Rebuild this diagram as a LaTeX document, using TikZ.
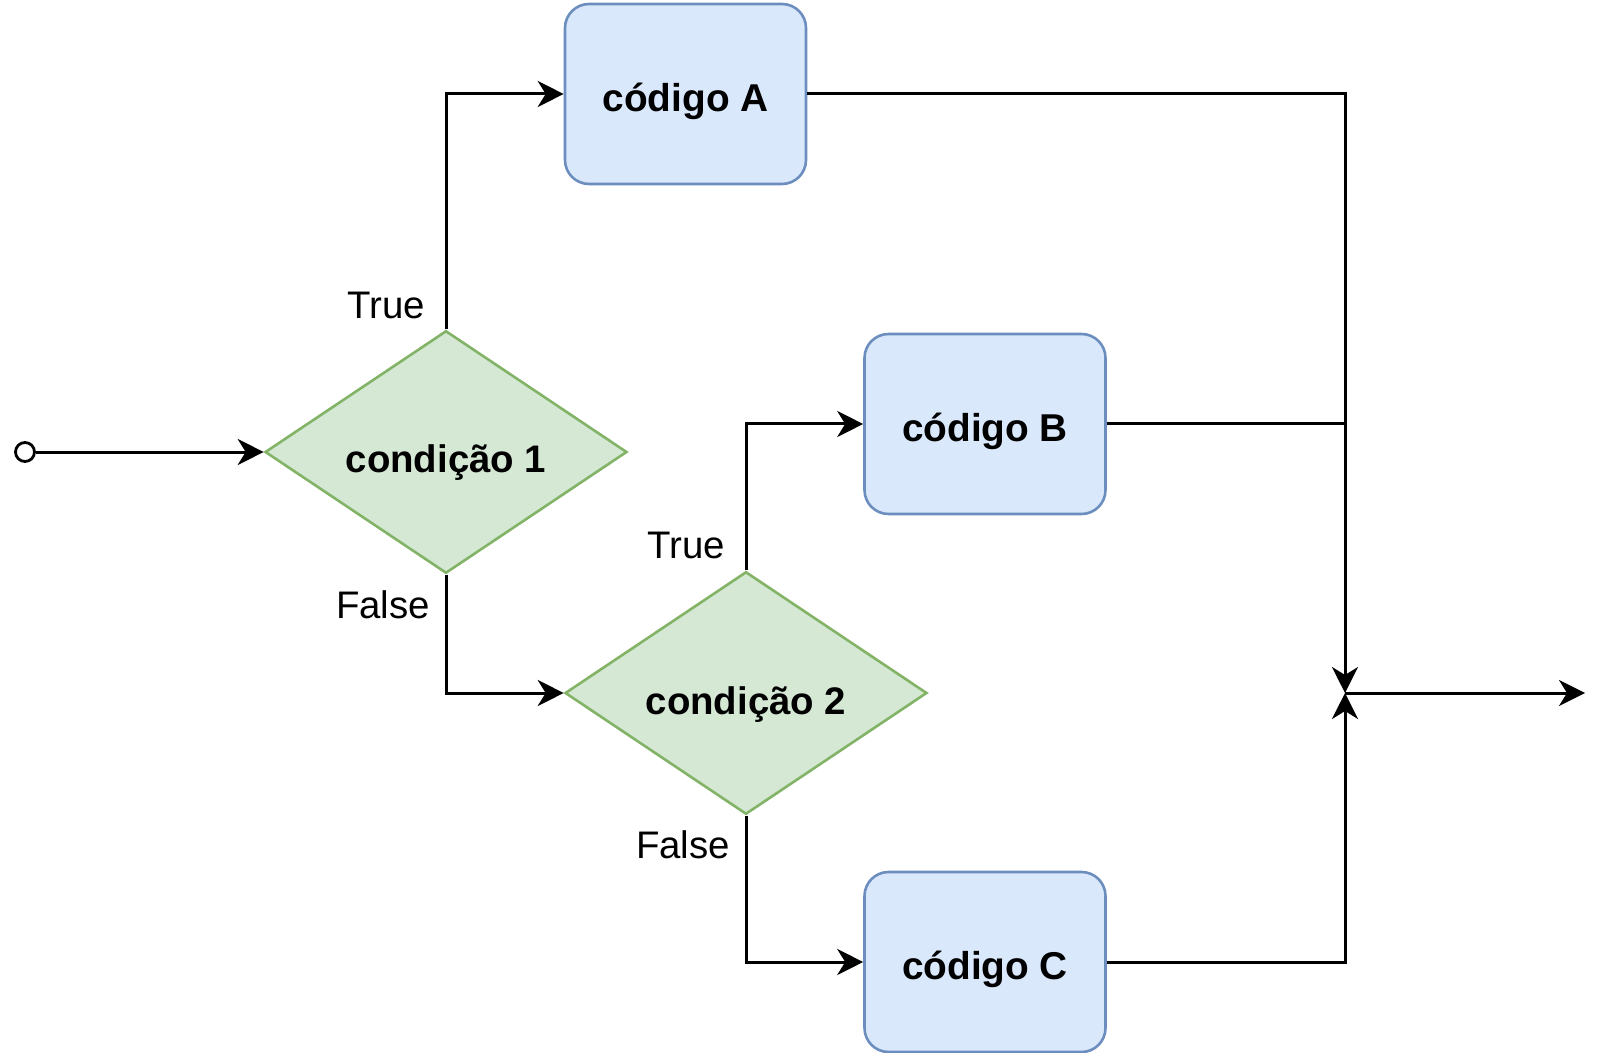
\documentclass[tikz,border=0pt]{standalone}
\usepackage{fontspec}
\setmainfont{Liberation Sans}
\usetikzlibrary{shapes.geometric,arrows.meta}
\definecolor{boxfill}{HTML}{DAE8FC}
\definecolor{boxline}{HTML}{6C8EBF}
\definecolor{decfill}{HTML}{D5E8D4}
\definecolor{decline}{HTML}{82B366}
\begin{document}
\begin{tikzpicture}[x=0.5pt,y=-0.5pt,
  codebox/.style={draw=boxline,fill=boxfill,line width=1.3pt,rounded corners=12pt,
    minimum width=120.5pt,minimum height=90pt,inner sep=0pt,
    text height=17.7pt,text depth=0pt,
    font=\fontsize{19.4}{22}\selectfont\bfseries},
  decision/.style={diamond,draw=decline,fill=decfill,line width=1.3pt,
    minimum width=181pt,minimum height=119pt,inner sep=0pt,
    text height=21pt,text depth=0pt,
    font=\fontsize{19.2}{22}\selectfont\bfseries},
  lbl/.style={font=\fontsize{19.2}{22}\selectfont,inner sep=0pt},
  flow/.style={line width=1.5pt,-{Stealth[length=13pt,width=13pt,inset=4pt]}},
  plain/.style={line width=1.5pt}]
\useasboundingbox (0,0) rectangle (1611,1053);

% process boxes
\node[codebox] (A) at (685.5,94) {código A};
\node[codebox] (B) at (985,424) {código B};
\node[codebox] (C) at (985,962) {código C};

% decisions
\node[decision] (D1) at (446,452) {condição 1};
\node[decision] (D2) at (746,693) {condição 2};

% start and merge points
\node[circle,draw,line width=1.4pt,fill=white,minimum size=9.5pt,inner sep=0pt] (S) at (25,452) {};
\coordinate (M) at (1345,693);
\coordinate (E) at (1585,693);

% branch labels
\node[lbl] (t1) at (386,305) {True};
\node[lbl] (f1) at (383,605) {False};
\node[lbl] (t2) at (686,545) {True};
\node[lbl] (f2) at (683,845) {False};

% connectors
\draw[flow] (S) -- (D1.west);
\draw[flow] (D1.north) |- (A.west);
\draw[flow] (D1.south) |- (D2.west);
\draw[flow] (D2.north) |- (B.west);
\draw[flow] (D2.south) |- (C.west);
\draw[flow] (A.east) -| (M);
\draw[plain] (B.east) -- (B.east -| M);
\draw[flow] (C.east) -| (M);
\draw[flow] (M) -- (E);
\end{tikzpicture}
\end{document}
